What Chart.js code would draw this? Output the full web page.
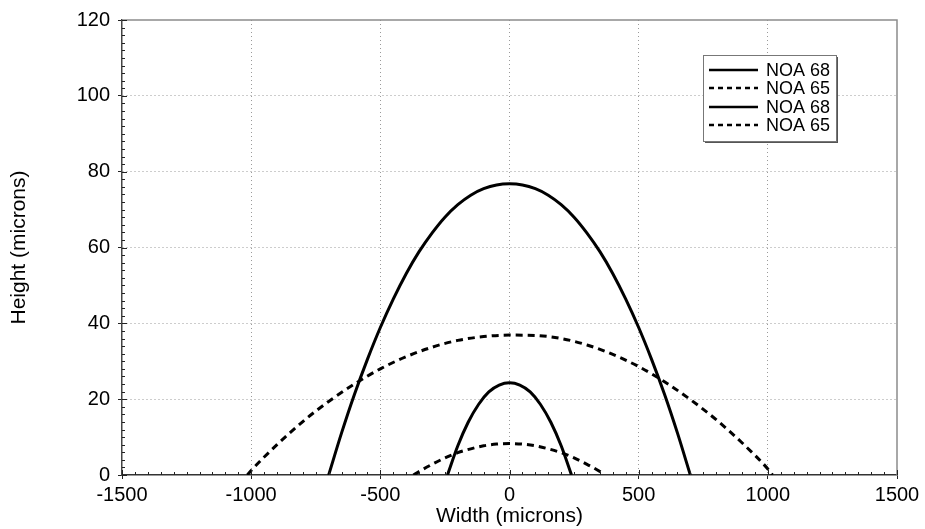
<!DOCTYPE html>
<html>
<head>
<meta charset="utf-8">
<script src="https://cdn.jsdelivr.net/npm/chart.js@4.4.0/dist/chart.umd.min.js"></script>
<style>
  html, body { margin: 0; padding: 0; background: #fff; }
</style>
</head>
<body>
<canvas id="profileChart" width="925" height="529"></canvas>
<script>
// profile data (width / height in microns)
const wideSolidX = [-700, -650, -600, -550, -500, -450, -400, -350, -300, -250, -200, -150, -100, -50, 0,
                    50, 100, 150, 200, 250, 300, 350, 400, 450, 500, 550, 600, 650, 700];
const wideSolidY = [0, 11.1, 21.3, 30.5, 38.9, 46.4, 53.1, 58.9, 63.8, 68.0, 71.3, 73.8, 75.5, 76.5, 76.8,
                    76.5, 75.5, 73.8, 71.3, 68.0, 63.8, 58.9, 53.1, 46.4, 38.9, 30.5, 21.3, 11.1, 0];

const wideDashX = [-1015, -1000, -900, -800, -700, -600, -500, -400, -300, -200, -100, 0,
                   100, 200, 300, 400, 500, 600, 700, 800, 900, 1000, 1018];
const wideDashY = [0, 1.2, 8.0, 14.1, 19.4, 24.0, 28.0, 31.2, 33.7, 35.5, 36.5, 36.9,
                   36.8, 36.0, 34.3, 31.8, 28.6, 24.6, 19.9, 14.6, 8.5, 1.6, 0];

const narrowSolidX = [-240, -200, -160, -120, -80, -40, 0, 40, 80, 120, 160, 200, 240];
const narrowSolidY = [0, 7.7, 13.9, 18.6, 21.9, 23.7, 24.3, 23.7, 21.9, 18.6, 13.9, 7.7, 0];

const narrowDashX = [-372, -350, -300, -250, -200, -150, -100, -50, 0, 50, 100, 150, 200, 250, 300, 350, 366];
const narrowDashY = [0, 0.9, 2.8, 4.5, 5.9, 6.9, 7.7, 8.15, 8.3, 8.15, 7.7, 6.9, 5.9, 4.5, 2.8, 0.9, 0];

const seriesLabels = ['NOA 68', 'NOA 65', 'NOA 68', 'NOA 65'];

const xTicks = [-1500, -1000, -500, 0, 500, 1000, 1500];
const yTicks = [0, 20, 40, 60, 80, 100, 120];

const FONT = '"Liberation Sans", Arial, Helvetica, sans-serif';

function toPoints(xs, ys) {
    return xs.map(function(x, i) { return { x: x, y: ys[i] }; });
}

function curve(label, xs, ys, dashed) {
    return {
        label: label,
        data: toPoints(xs, ys),
        borderColor: '#000',
        borderWidth: 3,
        borderDash: dashed ? [7, 5] : [],
        pointRadius: 0,
        fill: false,
        cubicInterpolationMode: 'monotone',
        legendDash: dashed ? [5, 4] : []
    };
}

// frame, minor ticks and the boxed legend
const framePlugin = {
    id: 'frame',
    afterDraw(chart) {
        const ctx = chart.ctx;
        const a = chart.chartArea;
        const xs = chart.scales.x;
        const ys = chart.scales.y;
        ctx.save();

        // top and right border
        ctx.strokeStyle = '#8c8c8c';
        ctx.lineWidth = 1.5;
        ctx.beginPath();
        ctx.moveTo(a.left, a.top);
        ctx.lineTo(a.right, a.top);
        ctx.lineTo(a.right, a.bottom);
        ctx.stroke();

        // inner tick marks
        ctx.strokeStyle = '#222';
        ctx.lineWidth = 1;
        ctx.beginPath();
        for (let v = xTicks[0]; v <= xTicks[xTicks.length - 1]; v += 50) {
            const px = Math.round(xs.getPixelForValue(v)) + 0.5;
            const len = (v % 500 === 0) ? 5 : 3;
            ctx.moveTo(px, a.bottom);
            ctx.lineTo(px, a.bottom - len);
        }
        for (let v = yTicks[0]; v <= yTicks[yTicks.length - 1]; v += 2) {
            const py = Math.round(ys.getPixelForValue(v)) + 0.5;
            const len = (v % 20 === 0) ? 5 : 3;
            ctx.moveTo(a.left, py);
            ctx.lineTo(a.left + len, py);
        }
        ctx.stroke();

        // legend box
        const bx = a.right - 194, by = a.top + 35, bw = 133, bh = 86;
        ctx.fillStyle = '#555';
        ctx.fillRect(bx + 2, by + 2, bw, bh);
        ctx.fillStyle = '#fff';
        ctx.fillRect(bx, by, bw, bh);
        ctx.strokeStyle = '#777';
        ctx.lineWidth = 1;
        ctx.strokeRect(bx + 0.5, by + 0.5, bw, bh);

        ctx.font = '18px ' + FONT;
        ctx.textBaseline = 'middle';
        ctx.textAlign = 'left';
        chart.data.datasets.forEach(function(ds, i) {
            const ry = Math.round(by + 15 + i * 18.4);
            ctx.strokeStyle = '#000';
            ctx.lineWidth = 2.5;
            ctx.setLineDash(ds.legendDash);
            ctx.beginPath();
            ctx.moveTo(bx + 6, ry);
            ctx.lineTo(bx + 55, ry);
            ctx.stroke();
            ctx.setLineDash([]);
            ctx.fillStyle = '#000';
            ctx.fillText(ds.label, bx + 63, ry + 1);
        });
        ctx.restore();
    }
};

function gridColor(edges) {
    return function(c) {
        if (c.tick && edges.indexOf(c.tick.value) !== -1) return 'rgba(0,0,0,0)';
        return '#9a9a9a';
    };
}

const ctx = document.getElementById('profileChart').getContext('2d');
const profileChart = new Chart(ctx, {
    type: 'line',
    data: {
        datasets: [
            curve(seriesLabels[0], wideSolidX, wideSolidY, false),
            curve(seriesLabels[1], wideDashX, wideDashY, true),
            curve(seriesLabels[2], narrowSolidX, narrowSolidY, false),
            curve(seriesLabels[3], narrowDashX, narrowDashY, true)
        ]
    },
    options: {
        responsive: false,
        animation: false,
        layout: { padding: { left: 0, top: 19, right: 28, bottom: 0 } },
        plugins: {
            legend: { display: false },
            tooltip: { enabled: false }
        },
        scales: {
            x: {
                type: 'linear',
                min: xTicks[0],
                max: xTicks[xTicks.length - 1],
                afterBuildTicks: function(scale) {
                    scale.ticks = xTicks.map(function(v) { return { value: v }; });
                },
                afterFit: function(scale) { scale.height = 54; },
                ticks: {
                    color: '#000',
                    padding: 4,
                    maxRotation: 0,
                    font: { family: FONT, size: 20 },
                    callback: function(v) { return String(v); }
                },
                grid: {
                    color: gridColor([xTicks[0], xTicks[xTicks.length - 1]]),
                    lineWidth: 1,
                    tickColor: '#222',
                    tickLength: 4
                },
                border: { color: '#333', width: 1.5, dash: [1, 3] },
                title: {
                    display: true,
                    text: 'Width (microns)',
                    color: '#000',
                    font: { family: FONT, size: 21 },
                    padding: { top: 0, bottom: 0 }
                }
            },
            y: {
                type: 'linear',
                min: yTicks[0],
                max: yTicks[yTicks.length - 1],
                afterBuildTicks: function(scale) {
                    scale.ticks = yTicks.map(function(v) { return { value: v }; });
                },
                afterFit: function(scale) { scale.width = 122; },
                ticks: {
                    color: '#000',
                    padding: 8,
                    font: { family: FONT, size: 20 },
                    callback: function(v) { return String(v); }
                },
                grid: {
                    color: gridColor([yTicks[0], yTicks[yTicks.length - 1]]),
                    lineWidth: 1,
                    tickColor: '#222',
                    tickLength: 4
                },
                border: { color: '#444', width: 1.5, dash: [1, 3] },
                title: {
                    display: true,
                    text: 'Height (microns)',
                    color: '#000',
                    font: { family: FONT, size: 21 },
                    padding: { top: 7, bottom: 0 }
                }
            }
        }
    },
    plugins: [framePlugin]
});
</script>
</body>
</html>
